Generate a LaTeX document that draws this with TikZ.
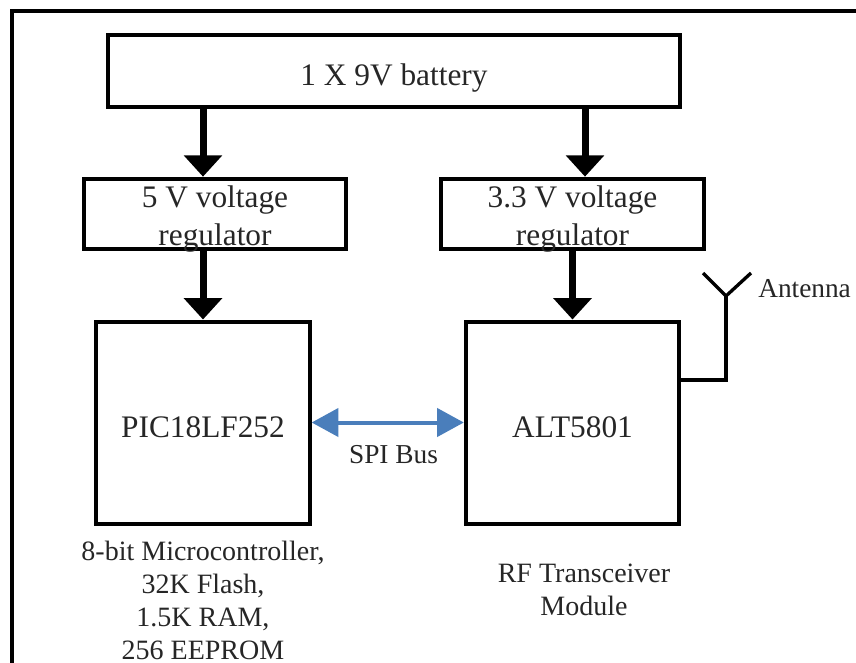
\documentclass[tikz,border=0pt]{standalone}
\usepackage{fontspec}
\usepackage{xcolor}
\setmainfont{Liberation Serif}
\usetikzlibrary{arrows.meta}
\definecolor{busblue}{HTML}{4A7EBB}

\begin{document}
\begin{tikzpicture}[x=0.75pt, y=-0.75pt,
  blockbox/.style={draw, line width=3pt, inner sep=0pt, text=black!85,
    font=\fontsize{23.5}{28}\selectfont, text height=22.5pt, text depth=0pt},
  regbox/.style={blockbox, minimum width=197pt, minimum height=53pt, align=center, text height=46.5pt},
  chipbox/.style={blockbox, minimum width=160pt, minimum height=151.5pt},
  notetext/.style={align=center, inner sep=0pt, text=black!85, font=\fontsize{21}{24.75}\selectfont},
  bustext/.style={inner sep=0pt, text=black!85, font=\fontsize{20.5}{24}\selectfont},
  power/.style={line width=5.25pt, -{Triangle[length=16pt, width=28pt]}},
  spibus/.style={busblue, line width=3pt, {Triangle[length=20pt, width=21pt]}-{Triangle[length=20pt, width=21pt]}},
  wire/.style={line width=2.5pt}]
\useasboundingbox (0,0) rectangle (856,663);
\draw[line width=3pt] (12,663) -- (12,11) -- (856,11);

\node[blockbox, minimum width=429pt, minimum height=54pt] (battery) at (394,71) {1 X 9V battery};
\node[regbox] (reg5) at (215,214) {5 V voltage\\regulator};
\node[regbox] (reg33) at (572.5,214) {3.3 V voltage\\regulator};
\node[chipbox] (pic) at (203,422.5) {PIC18LF252};
\node[chipbox] (alt) at (572.5,422.5) {ALT5801};

\node[notetext] (picnote) at (203,600) {8-bit Microcontroller,\\32K Flash,\\1.5K RAM,\\256 EEPROM};
\node[notetext] (altnote) at (584,590) {RF Transceiver\\Module};
\node[bustext, anchor=base] (spilabel) at (393.5,463) {SPI Bus};
\node[bustext, anchor=base west] (antlabel) at (758,297) {Antenna};

% power rails
\coordinate (feed33) at (585,107);
\draw[power] (battery.south -| pic.north) -- (pic.north |- reg5.north);
\draw[power] (feed33) -- (feed33 |- reg33.north);
\draw[power] (pic.north |- reg5.south) -- (pic.north);
\draw[power] (reg33.south) -- (alt.north);

\draw[spibus] (pic.east) -- (alt.west);

% antenna
\coordinate (antfoot) at (726,380);
\coordinate (anthub) at (726,296);
\coordinate (antleft) at (703,273);
\coordinate (antright) at (751,273);
\draw[wire] (alt.east |- antfoot) -- (antfoot) -- (anthub);
\draw[wire] (antleft) -- (anthub) -- (antright);
\end{tikzpicture}
\end{document}
